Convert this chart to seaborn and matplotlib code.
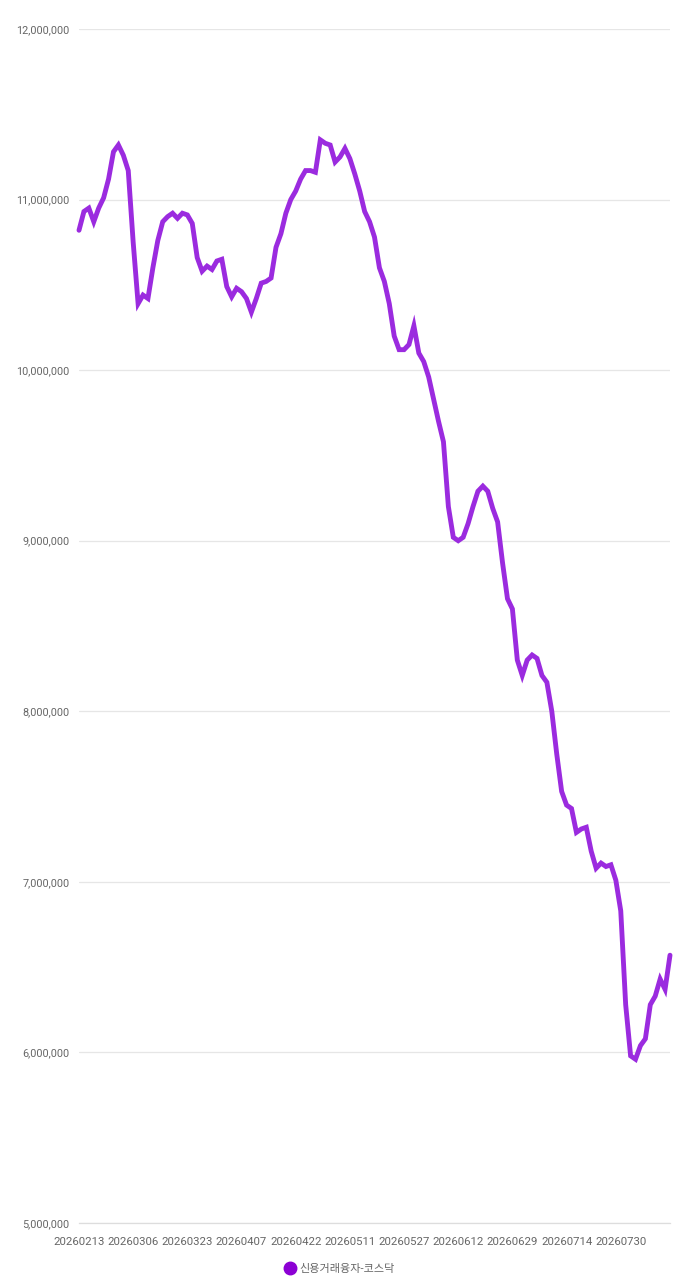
import pandas as pd
import matplotlib
matplotlib.use("Agg")
import matplotlib.pyplot as plt
from matplotlib.lines import Line2D
from matplotlib.ticker import FuncFormatter, FixedLocator
import seaborn as sns

series_name = "신용거래융자-코스닥"

# 거래일별 잔고 (원)
balance = [
    10820000, 10930000, 10950000, 10870000, 10950000, 11010000, 11120000, 11280000,
    11320000, 11260000, 11170000, 10750000, 10390000, 10440000, 10420000, 10600000,
    10760000, 10870000, 10900000, 10920000, 10890000, 10920000, 10910000, 10860000,
    10660000, 10580000, 10610000, 10590000, 10640000, 10650000, 10490000, 10430000,
    10480000, 10460000, 10420000, 10340000, 10420000, 10510000, 10520000, 10540000,
    10720000, 10800000, 10920000, 11000000, 11050000, 11120000, 11170000, 11170000,
    11160000, 11350000, 11330000, 11320000, 11220000, 11250000, 11300000, 11240000,
    11150000, 11050000, 10930000, 10870000, 10780000, 10600000, 10520000, 10390000,
    10200000, 10120000, 10120000, 10150000, 10260000, 10100000, 10050000, 9960000,
    9830000, 9700000, 9580000, 9200000, 9020000, 9000000, 9020000, 9100000,
    9200000, 9290000, 9320000, 9290000, 9190000, 9110000, 8870000, 8660000,
    8600000, 8300000, 8210000, 8300000, 8330000, 8310000, 8210000, 8170000,
    8000000, 7750000, 7530000, 7450000, 7430000, 7290000, 7310000, 7320000,
    7180000, 7080000, 7110000, 7090000, 7100000, 7010000, 6830000, 6280000,
    5980000, 5960000, 6040000, 6080000, 6280000, 6330000, 6430000, 6370000,
    6570000,
]

# 11 거래일마다 표시되는 날짜 라벨
tick_dates = ["20260213", "20260306", "20260323", "20260407", "20260422", "20260511",
              "20260527", "20260612", "20260629", "20260714", "20260730"]

df = pd.DataFrame({"idx": range(len(balance)), "value": balance})

sns.set_style("white")
plt.rcParams['font.family'] = ['Roboto', 'Noto Sans CJK KR', 'DejaVu Sans']

line_color = "#9b2bdf"
text_color = "#666666"

fig = plt.figure(figsize=(6.79, 12.8), dpi=100)
ax = fig.add_axes([79 / 679, 1 - 1223 / 1280, (670 - 79) / 679, (1223 - 29) / 1280])

sns.lineplot(data=df, x="idx", y="value", ax=ax, color=line_color, linewidth=3.5,
             solid_joinstyle="miter", legend=False, clip_on=False)

ax.set_xlim(0, len(balance) - 1)
ax.set_ylim(5000000, 12000000)
ax.set_yticks(range(5000000, 12000001, 1000000))
ax.yaxis.set_major_formatter(FuncFormatter(lambda v, p: f"{int(v):,}"))
ax.grid(axis="y", color="#e6e6e6", linewidth=0.9)
ax.set_axisbelow(True)

ax.set_xticks([i * 11 for i in range(len(tick_dates))])
ax.set_xticklabels(tick_dates)
ax.xaxis.set_minor_locator(FixedLocator(range(0, len(balance), 12)))
ax.tick_params(axis="x", which="major", length=0, pad=10, labelsize=8.2, labelcolor=text_color)
ax.tick_params(axis="x", which="minor", length=5, width=0.8, color="#dddddd", direction="out")
ax.tick_params(axis="y", length=0, pad=7, labelsize=7.8, labelcolor=text_color)

for side in ["left", "right", "top"]:
    ax.spines[side].set_visible(False)
ax.spines["bottom"].set_color("#dddddd")
ax.spines["bottom"].set_linewidth(0.9)

ax.set_xlabel("")
ax.set_ylabel("")

handle = Line2D([], [], marker="o", linestyle="none", markersize=9,
                markerfacecolor="#8c00d4", markeredgecolor="#8c00d4")
fig.legend([handle], [series_name], loc="center", bbox_to_anchor=(0.5, 1 - 1269 / 1280),
           frameon=False, fontsize=8, labelcolor=text_color, handletextpad=0.35,
           borderpad=0, handlelength=1.0)

fig.savefig("out.png", dpi=100)
